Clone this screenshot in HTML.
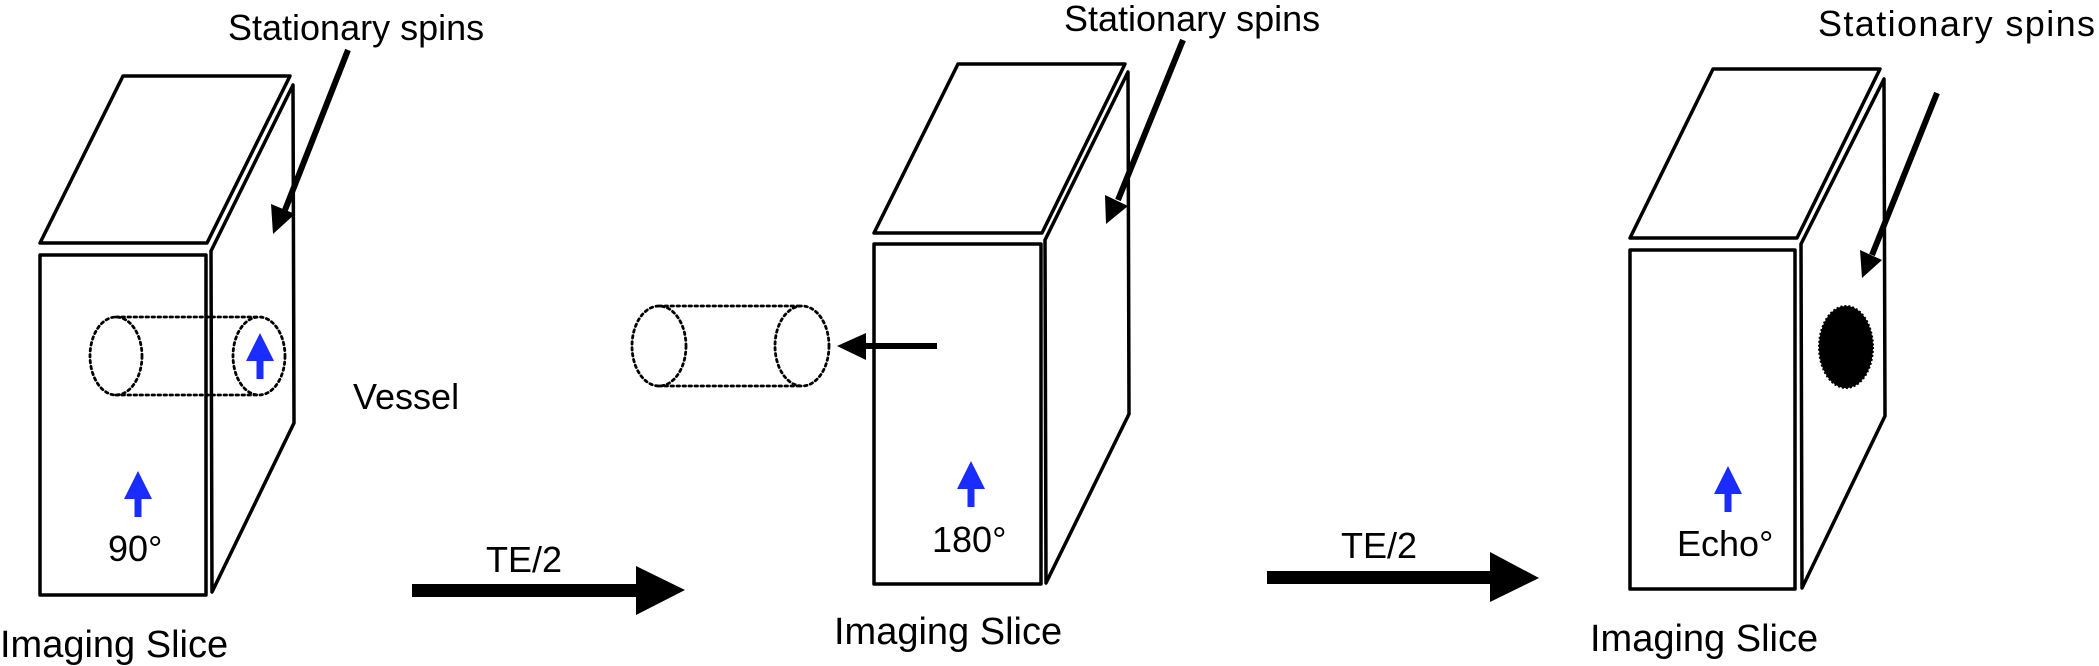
<!DOCTYPE html>
<html><head><meta charset="utf-8"><style>
html,body{margin:0;padding:0;background:#fff;}
svg{display:block;}
text{font-family:"Liberation Sans",Arial,sans-serif;fill:#000;}
</style></head><body>
<svg width="2099" height="666" viewBox="0 0 2099 666" xmlns="http://www.w3.org/2000/svg">
<defs>
<g id="blue"><polygon points="0,0 -14,28 14,28" fill="#1a2cff"/><rect x="-3.5" y="26" width="7" height="20" fill="#1a2cff"/></g>
</defs>
<g fill="none" stroke="#000" stroke-width="3.5" stroke-linejoin="round" stroke-linecap="round">
<polygon points="40,243 123,76 290,76 207,243"/>
<rect x="40" y="255" width="166" height="340"/>
<polygon points="211,251 293,85 294,423 212,592"/>
<polygon points="874,233 958,64 1125,64 1042,233"/>
<rect x="874" y="244" width="167" height="340"/>
<polygon points="1045,240 1128,72 1129,414 1046,583"/>
<polygon points="1630,238 1713,69 1880,69 1797,238"/>
<rect x="1630" y="250" width="165" height="339"/>
<polygon points="1801,244 1884,79 1885,416 1802,588"/>
</g>
<g fill="none" stroke="#000" stroke-width="2.8" stroke-dasharray="2.5 3.5" stroke-linecap="round">
<path d="M116,317 H259 M116,395 H259"/>
<ellipse cx="116" cy="356" rx="26" ry="39"/>
<ellipse cx="259" cy="356" rx="26" ry="39"/>
<path d="M659,306 H802 M659,386 H802"/>
<ellipse cx="659" cy="346" rx="27" ry="40"/>
<ellipse cx="802" cy="346" rx="27" ry="40"/>
</g>
<use href="#blue" x="260" y="333"/>
<use href="#blue" x="138" y="471"/>
<use href="#blue" x="971" y="461"/>
<use href="#blue" x="1728" y="466"/>
<g stroke="#000" stroke-width="6" stroke-linecap="butt">
<line x1="348" y1="50" x2="285" y2="210"/>
<line x1="1183" y1="40" x2="1118" y2="200"/>
<line x1="1937" y1="93" x2="1872" y2="255"/>
</g>
<polygon points="273,234 271,204 295,214" fill="#000"/>
<polygon points="1106,224 1105,195 1128,206" fill="#000"/>
<polygon points="1862,278 1860,250 1882,260" fill="#000"/>
<line x1="937" y1="346" x2="860" y2="346" stroke="#000" stroke-width="6"/>
<polygon points="837,346 866,333 866,360" fill="#000"/>
<ellipse cx="1846" cy="347" rx="27" ry="41" fill="#000" stroke="#000" stroke-width="2" stroke-dasharray="2 2"/>
<rect x="412" y="584" width="226" height="13" fill="#000"/>
<polygon points="636,566 685,590 636,615" fill="#000"/>
<rect x="1267" y="571" width="225" height="13" fill="#000"/>
<polygon points="1490,552 1539,578 1490,602" fill="#000"/>
<g font-size="36">
<text x="228" y="40">Stationary spins</text>
<text x="1064" y="31">Stationary spins</text>
<text x="1818" y="36" textLength="277">Stationary spins</text>
<text x="353" y="409">Vessel</text>
<text x="108" y="561">90°</text>
<text x="932" y="552">180°</text>
<text x="1677" y="556">Echo°</text>
<text x="486" y="572">TE/2</text>
<text x="1341" y="558">TE/2</text>
</g>
<g font-size="38">
<text x="0" y="657">Imaging Slice</text>
<text x="834" y="644">Imaging Slice</text>
<text x="1590" y="651">Imaging Slice</text>
</g>
</svg>
</body></html>
